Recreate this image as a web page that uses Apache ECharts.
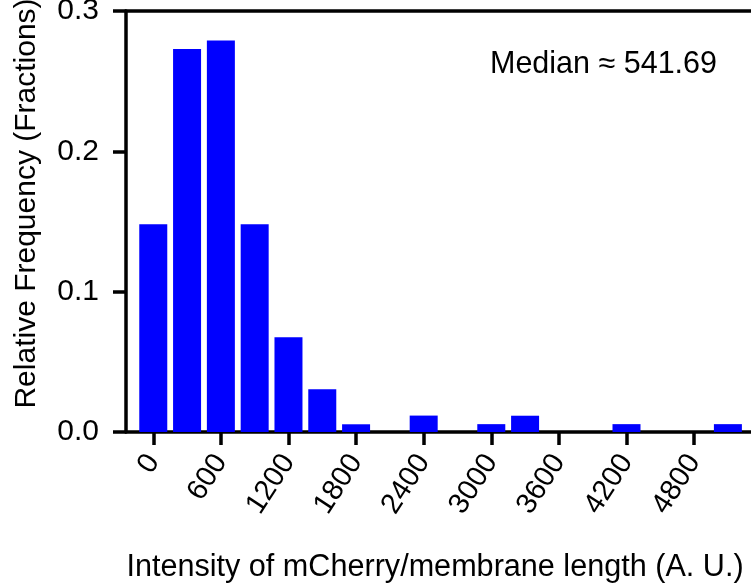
<!DOCTYPE html>
<html>
<head>
<meta charset="utf-8">
<script src="https://cdn.jsdelivr.net/npm/echarts@6/dist/echarts.min.js"></script>
<style>
html,body{margin:0;padding:0;background:#fff;}
#chart{width:751px;height:585px;}
</style>
</head>
<body>
<div id="chart"></div>
<script>
// Data
var binCenters = [0, 300, 600, 900, 1200, 1500, 1800, 2100, 2400, 2700, 3000, 3300, 3600, 3900, 4200, 4500, 4800, 5100];
var relFreq = [0.148, 0.273, 0.279, 0.148, 0.0675, 0.0304, 0.0055, 0, 0.0117, 0, 0.0056, 0.0116, 0, 0, 0.0056, 0, 0, 0.0056];
var xTickValues = [0, 600, 1200, 1800, 2400, 3000, 3600, 4200, 4800];
var yTickValues = [0, 0.1, 0.2, 0.3];
var medianText = 'Median \u2248 541.69';
var xTitle = 'Intensity of mCherry/membrane length (A. U.)';
var yTitle = 'Relative Frequency (Fractions)';

var FONT = '"Liberation Sans", Arial, Helvetica, sans-serif';
var chart = echarts.init(document.getElementById('chart'));

var seriesData = binCenters.map(function (x, i) { return [x, relFreq[i]]; });

chart.setOption({
  animation: false,
  backgroundColor: '#ffffff',
  textStyle: { fontFamily: FONT },
  title: {
    text: medianText,
    left: 490,
    top: 49,
    padding: 0,
    textStyle: { fontFamily: FONT, fontSize: 30.5, fontWeight: 'normal', color: '#000' }
  },
  grid: { left: 126, right: 0, top: 11, bottom: 153, containLabel: false, outerBoundsMode: 'none' },
  xAxis: [{
    type: 'value',
    min: -242,
    max: 5305,
    position: 'bottom',
    splitLine: { show: false },
    axisLine: { show: true, onZero: false, lineStyle: { color: '#000', width: 3.5 } },
    axisTick: { show: true, length: 13, lineStyle: { color: '#000', width: 3.5 }, customValues: xTickValues },
    axisLabel: {
      customValues: xTickValues,
      rotate: 57,
      margin: 25,
      fontFamily: FONT,
      fontSize: 29,
      color: '#000',
      formatter: function (v) { return String(v); }
    },
    name: xTitle,
    nameLocation: 'middle',
    nameGap: 120,
    nameTextStyle: { fontFamily: FONT, fontSize: 30.6, color: '#000', padding: [0, 7, 0, 0] }
  }, {
    type: 'value',
    min: -242,
    max: 5305,
    position: 'top',
    splitLine: { show: false },
    axisLine: { show: true, onZero: false, lineStyle: { color: '#000', width: 3.5 } },
    axisTick: { show: false },
    axisLabel: { show: false }
  }],
  yAxis: {
    type: 'value',
    min: 0,
    max: 0.3,
    interval: 0.1,
    splitLine: { show: false },
    axisLine: { show: true, onZero: false, lineStyle: { color: '#000', width: 3.5 } },
    axisTick: { show: true, length: 13, lineStyle: { color: '#000', width: 3.5 } },
    axisLabel: {
      margin: 27,
      fontFamily: FONT,
      fontSize: 30,
      color: '#000',
      formatter: function (v) { return v.toFixed(1); }
    },
    name: yTitle,
    nameLocation: 'middle',
    nameGap: 84,
    nameTextStyle: { fontFamily: FONT, fontSize: 30, color: '#000', padding: [0, 0, 0, 36] }
  },
  series: [{
    type: 'bar',
    xAxisIndex: 0,
    data: seriesData,
    barWidth: 28,
    itemStyle: { color: '#0000ff' }
  }]
});
</script>
</body>
</html>
